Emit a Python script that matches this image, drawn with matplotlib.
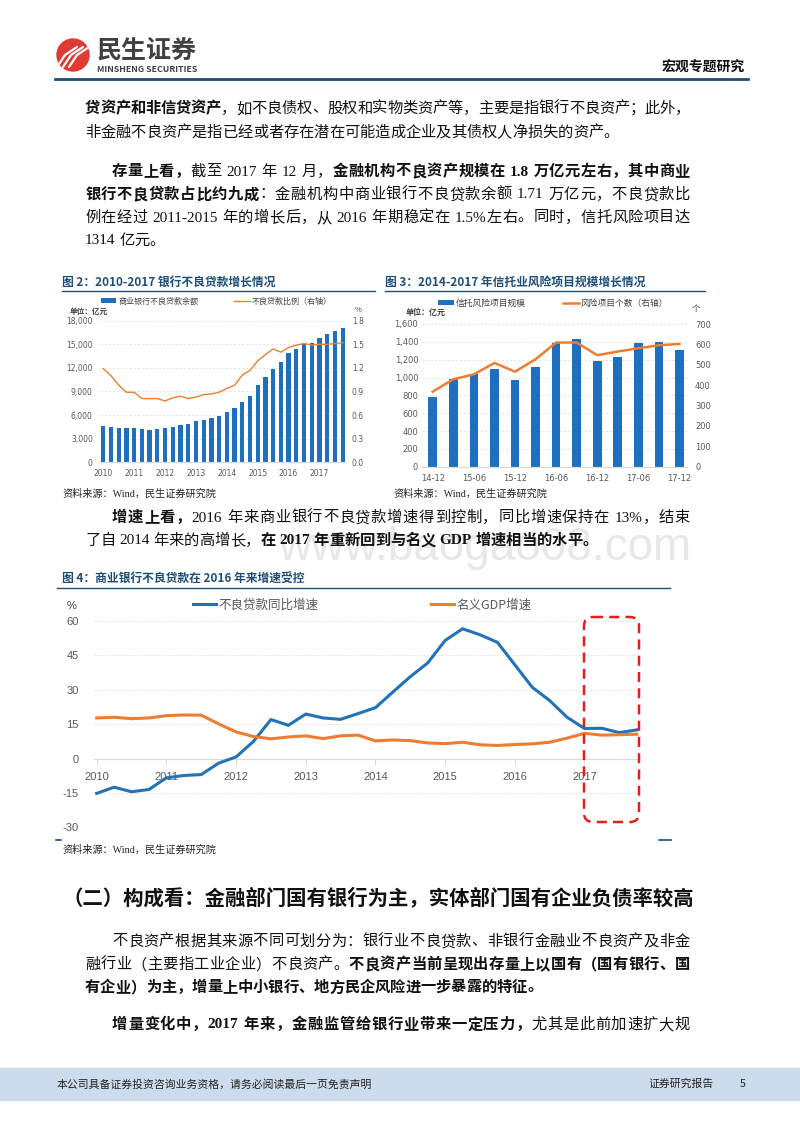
import numpy as np
import matplotlib
matplotlib.use('Agg')
import matplotlib.pyplot as plt
import matplotlib.ticker as mtick
import matplotlib.transforms as mtrans
from matplotlib.patches import Rectangle, Circle, FancyBboxPatch
from matplotlib.lines import Line2D

plt.rcParams['axes.unicode_minus'] = False

W, H = 800, 1132
CJK = 'Noto Sans CJK SC'
BODY = ['Liberation Serif', CJK]
SANS = ['Liberation Sans', CJK]
BLUE_T = '#1f4e79'

# ---- data: chart 2 (quarterly 2010Q1-2017Q4) ----
year_labels = ['2010', '2011', '2012', '2013', '2014', '2015', '2016', '2017']
npl_balance = [4660, 4530, 4320, 4320, 4320, 4190, 4070, 4240, 4360, 4530, 4790, 4920,
               5300, 5380, 5590, 5890, 6440, 6950, 7630, 8390, 9830, 10890, 11860, 12750,
               13940, 14360, 15040, 15130, 15760, 16360, 16690, 17120]
npl_ratio = [1.19, 1.10, 0.98, 0.89, 0.89, 0.81, 0.81, 0.81, 0.78, 0.82, 0.84, 0.81,
             0.83, 0.86, 0.87, 0.89, 0.94, 0.98, 1.11, 1.17, 1.29, 1.37, 1.44, 1.40,
             1.46, 1.49, 1.51, 1.49, 1.50, 1.50, 1.51, 1.52]

# ---- data: chart 3 ----
trust_labels = ['14-12', '15-03', '15-06', '15-09', '15-12', '16-03', '16-06',
                '16-09', '16-12', '17-03', '17-06', '17-09', '17-12']
trust_scale = [785, 979, 1039, 1092, 976, 1114, 1391, 1428, 1181, 1234, 1391, 1398, 1314]
trust_count = [368, 429, 453, 509, 466, 527, 609, 609, 547, 565, 581, 596, 602]

# ---- data: chart 4 (quarterly 2010Q1-2017Q4) ----
npl_growth = [-15.2, -12.5, -14.5, -13.5, -8.4, -7.4, -7.0, -2.0, 0.7, 7.5, 17.0, 14.5,
              19.4, 17.7, 17.1, 19.6, 22.2, 29.0, 35.7, 41.7, 51.5, 56.6, 54.0, 50.7,
              40.9, 31.1, 25.3, 18.0, 13.1, 13.2, 11.3, 12.5]
gdp_growth = [17.7, 18.0, 17.4, 17.7, 18.7, 19.0, 18.9, 15.1, 11.6, 9.6, 8.6, 9.4,
              9.9, 8.7, 9.9, 10.2, 7.7, 8.1, 7.8, 6.8, 6.5, 7.1, 6.0, 5.7,
              6.1, 6.4, 7.1, 8.9, 11.0, 10.2, 10.4, 10.6]

fig = plt.figure(figsize=(W / 100, H / 100), dpi=100)
# pixel coordinates, y measured from the top of the page
pix = mtrans.Affine2D().scale(1 / W, -1 / H).translate(0, 1) + fig.transFigure
renderer = fig.canvas.get_renderer()


def ax_box(left, top, right, bottom):
    return fig.add_axes([left / W, 1 - bottom / H, (right - left) / W, (bottom - top) / H])


def ptext(x, y, s, **kw):
    kw.setdefault('va', 'center')
    kw.setdefault('family', CJK)
    return fig.text(x, y, s, transform=pix, **kw)


def hline(x0, x1, y, color=BLUE_T, lw=1.0):
    fig.add_artist(Line2D([x0, x1], [y, y], transform=pix, color=color, lw=lw))


def tokens(s):
    out, buf = [], ''
    for c in s:
        if c == ' ':
            if buf:
                out.append(buf)
                buf = ''
            out.append(' ')
        elif ord(c) < 128:
            buf += c
        else:
            if buf:
                out.append(buf)
                buf = ''
            out.append(c)
    if buf:
        out.append(buf)
    return out


def para_line(segs, x0, y, x1=None, size=11):
    # draws one line of body text, optionally justified between x0 and x1
    items = []
    sp = size * 0.25 * 100 / 72
    for text, bold in segs:
        for tk in tokens(text):
            if tk == ' ':
                items.append((None, sp))
                continue
            t = ptext(0, y, tk, fontsize=size, family=BODY, color='#111111',
                      fontweight='bold' if bold else 'normal')
            items.append((t, t.get_window_extent(renderer).width))
    gap = 0
    if x1 is not None and len(items) > 1:
        gap = (x1 - x0 - sum(w for _, w in items)) / (len(items) - 1)
    x = x0
    for t, w in items:
        if t is not None:
            t.set_position((x, y))
        x += w + gap


# ---- page header ----
fig.add_artist(Circle((73, 55), 16, transform=pix, color='#e03a32'))
for dx in (-7, -1, 5):
    fig.add_artist(Line2D([64 + dx, 72 + dx, 84 + dx], [67, 55, 47], transform=pix,
                          color='white', lw=1.6, solid_capstyle='round'))
ptext(97, 51, '民生证券', fontsize=18, fontweight='bold', color='#404040')
ptext(97, 69, 'MINSHENG SECURITIES', fontsize=6.3, fontweight='bold', color='#404040')
ptext(745, 68, '宏观专题研究', fontsize=10, fontweight='bold', ha='right', color='#111111')
hline(55, 748, 79, color='#1f4e79', lw=2)

# ---- body text ----
L, R, IND = 85, 690, 112
para_line([('贷资产和非信贷资产', True), ('，如不良债权、股权和实物类资产等，主要是指银行不良资产；此外，', False)], L, 109, R)
para_line([('非金融不良资产是指已经或者存在潜在可能造成企业及其债权人净损失的资产。', False)], L, 133)
para_line([('存量上看，', True), ('截至 2017 年 12 月，', False), ('金融机构不良资产规模在 1.8 万亿元左右，其中商业', True)], IND, 172, R)
para_line([('银行不良贷款占比约九成', True), ('：金融机构中商业银行不良贷款余额 1.71 万亿元，不良贷款比', False)], L, 195, R)
para_line([('例在经过 2011-2015 年的增长后，从 2016 年期稳定在 1.5%左右。同时，信托风险项目达', False)], L, 218, R)
para_line([('1314 亿元。', False)], L, 241)

# ---- chart 2 ----
ptext(62, 282, '图 2：2010-2017 银行不良贷款增长情况', fontsize=8.5, fontweight='bold', color=BLUE_T)
hline(62, 375, 291)
ax2 = ax_box(99.8, 320.7, 345, 462.3)
x2 = np.arange(len(npl_balance))
b2 = ax2.bar(x2, npl_balance, width=0.55, color='#1f6fbf', label='商业银行不良贷款余额', zorder=2)
ax2.set_xlim(-0.45, 31.3)
ax2.set_ylim(0, 18000)
ax2.set_yticks(range(0, 18001, 3000))
ax2.yaxis.set_major_formatter(mtick.FuncFormatter(lambda v, _: f'{v:,.0f}'))
ax2.set_xticks(x2[::4])
ax2.set_xticklabels(year_labels)
ax2.grid(axis='y', color='#d9d9d9', ls=(0, (3, 3)), lw=0.5, zorder=0)
ax2r = ax2.twinx()
l2, = ax2r.plot(x2, npl_ratio, color='#ed7d31', lw=1.0, label='不良贷款比例（右轴）')
ax2r.set_ylim(0, 1.8)
ax2r.set_yticks(np.arange(0, 1.81, 0.3))
ax2r.yaxis.set_major_formatter(mtick.FormatStrFormatter('%.1f'))
for a in (ax2, ax2r):
    for s in ('top', 'left', 'right'):
        a.spines[s].set_visible(False)
    a.spines['bottom'].set_color('#d9d9d9')
    a.tick_params(length=0, labelsize=5.5, labelcolor='#595959', pad=5)
ax2.legend(handles=[b2, l2], ncol=2, loc='center', bbox_to_anchor=(216.5 / W, 1 - 301 / H),
           bbox_transform=fig.transFigure, frameon=False, prop={'family': CJK, 'size': 5.8},
           handlelength=1.9, handleheight=0.6, handletextpad=0.3, columnspacing=4.4,
           borderpad=0, labelcolor='#404040')
ptext(70, 311, '单位：亿元', fontsize=5.5, fontweight='bold', color='#404040')
ptext(358, 310, '%', fontsize=5.5, ha='center', color='#404040')
ptext(62, 494, '资料来源：Wind，民生证券研究院', fontsize=7.3, color='#222222', family=BODY)

# ---- chart 3 ----
ptext(385, 282, '图 3：2014-2017 年信托业风险项目规模增长情况', fontsize=8.5, fontweight='bold', color=BLUE_T)
hline(385, 705, 291)
ax3 = ax_box(422.4, 324, 686.7, 466.7)
x3 = np.arange(len(trust_scale))
b3 = ax3.bar(x3, trust_scale, width=0.42, color='#1f6fbf', label='信托风险项目规模', zorder=2)
ax3.set_xlim(-0.5, 12.35)
ax3.set_ylim(0, 1600)
ax3.set_yticks(range(0, 1601, 200))
ax3.yaxis.set_major_formatter(mtick.FuncFormatter(lambda v, _: f'{v:,.0f}'))
ax3.set_xticks(x3[::2])
ax3.set_xticklabels(trust_labels[::2])
ax3.grid(axis='y', color='#d9d9d9', ls=(0, (3, 3)), lw=0.5, zorder=0)
ax3r = ax3.twinx()
l3, = ax3r.plot(x3, trust_count, color='#ed7d31', lw=1.8, label='风险项目个数（右轴）')
ax3r.set_ylim(0, 700)
ax3r.set_yticks(range(0, 701, 100))
for a in (ax3, ax3r):
    for s in ('top', 'left', 'right'):
        a.spines[s].set_visible(False)
    a.spines['bottom'].set_color('#d9d9d9')
    a.tick_params(length=0, labelsize=6, labelcolor='#595959', pad=3)
ax3r.tick_params(pad=6)
ax3.tick_params(axis='x', pad=5)
ax3.legend(handles=[b3, l3], ncol=2, loc='center', bbox_to_anchor=(553 / W, 1 - 303 / H),
           bbox_transform=fig.transFigure, frameon=False, prop={'family': CJK, 'size': 6.3},
           handlelength=1.85, handleheight=0.6, handletextpad=0.2, columnspacing=4.2,
           borderpad=0, labelcolor='#404040')
ptext(406, 312, '单位：亿元', fontsize=5.8, fontweight='bold', color='#404040')
ptext(696, 308, '个', fontsize=6, ha='center', color='#404040')
ptext(393, 494, '资料来源：Wind，民生证券研究院', fontsize=7.3, color='#222222', family=BODY)

# ---- text between charts ----
para_line([('增速上看，', True), ('2016 年来商业银行不良贷款增速得到控制，同比增速保持在 13%，结束', False)], IND, 518, R)
para_line([('了自 2014 年来的高增长，', False), ('在 2017 年重新回到与名义 GDP 增速相当的水平。', True)], L, 541)
ptext(485, 548, 'www.baogao08.com', fontsize=33, family='Liberation Sans', color='#e8e8e8',
      ha='center', zorder=-5)

# ---- chart 4 ----
ptext(62, 578, '图 4：商业银行不良贷款在 2016 年来增速受控', fontsize=8.5, fontweight='bold', color=BLUE_T)
hline(57, 670, 588)
ax4 = ax_box(94.1, 621, 638.5, 827.3)
x4 = np.arange(len(npl_growth))
ax4.plot(x4, npl_growth, color='#2272b8', lw=2.2, label='不良贷款同比增速', zorder=3)
ax4.plot(x4, gdp_growth, color='#ed7d31', lw=2.2, label='名义GDP增速', zorder=3)
ax4.set_xlim(-0.15, 31.1)
ax4.set_ylim(-30, 60)
ax4.set_yticks(range(-30, 61, 15))
ax4.set_xticks(x4[::4])
ax4.set_xticklabels(year_labels)
ax4.grid(axis='y', color='#d9d9d9', ls=(0, (1.5, 2)), lw=0.6, zorder=0)
for s in ('top', 'left', 'right'):
    ax4.spines[s].set_visible(False)
ax4.spines['bottom'].set_position(('data', 0))
ax4.spines['bottom'].set_color('#d9d9d9')
ax4.tick_params(axis='x', length=4, color='#d9d9d9', labelsize=8, labelcolor='#595959', pad=6)
ax4.tick_params(axis='y', length=0, labelsize=8, labelcolor='#595959', pad=11)
for lab in ax4.get_xticklabels() + ax4.get_yticklabels():
    lab.set_family(SANS)
ax4.legend(ncol=2, loc='center', bbox_to_anchor=(362.5 / W, 1 - 605 / H),
           bbox_transform=fig.transFigure, frameon=False, prop={'family': CJK, 'size': 9},
           handlelength=1.85, handletextpad=0.2, columnspacing=9.0, borderpad=0,
           labelcolor='#595959')
ptext(72, 606, '%', fontsize=8, ha='center', color='#404040', family=SANS)
box = FancyBboxPatch((584, 617), 55, 205, boxstyle='round,pad=0,rounding_size=9',
                     transform=pix, fill=False, edgecolor='#e0201b', lw=1.8,
                     linestyle=(0, (4, 2.5)))
fig.add_artist(box)
hline(56, 61, 840, color=BLUE_T, lw=1.2)
hline(659, 671, 840, color=BLUE_T, lw=1.2)
ptext(62, 850, '资料来源：Wind，民生证券研究院', fontsize=7.3, color='#222222', family=BODY)

# ---- section 2 ----
ptext(62, 898, '（二）构成看：金融部门国有银行为主，实体部门国有企业负债率较高', fontsize=14.7,
      fontweight='bold', color='#111111')
para_line([('不良资产根据其来源不同可划分为：银行业不良贷款、非银行金融业不良资产及非金', False)], IND, 942, R)
para_line([('融行业（主要指工业企业）不良资产。', False), ('不良资产当前呈现出存量上以国有（国有银行、国', True)], L, 965, R)
para_line([('有企业）为主，增量上中小银行、地方民企风险进一步暴露的特征。', True)], L, 988)
para_line([('增量变化中，2017 年来，金融监管给银行业带来一定压力，', True), ('尤其是此前加速扩大规', False)], IND, 1025, R)

# ---- footer ----
fig.add_artist(Rectangle((0, 1068), W, 32, transform=pix, color='#cddcec', zorder=-10))
ptext(57, 1084, '本公司具备证券投资咨询业务资格，请务必阅读最后一页免责声明', fontsize=7.8, color='#222222')
ptext(648, 1084, '证券研究报告', fontsize=7.8, color='#222222')
ptext(743, 1084, '5', fontsize=7.8, ha='center', color='#222222')

fig.savefig('out.png', dpi=100)
